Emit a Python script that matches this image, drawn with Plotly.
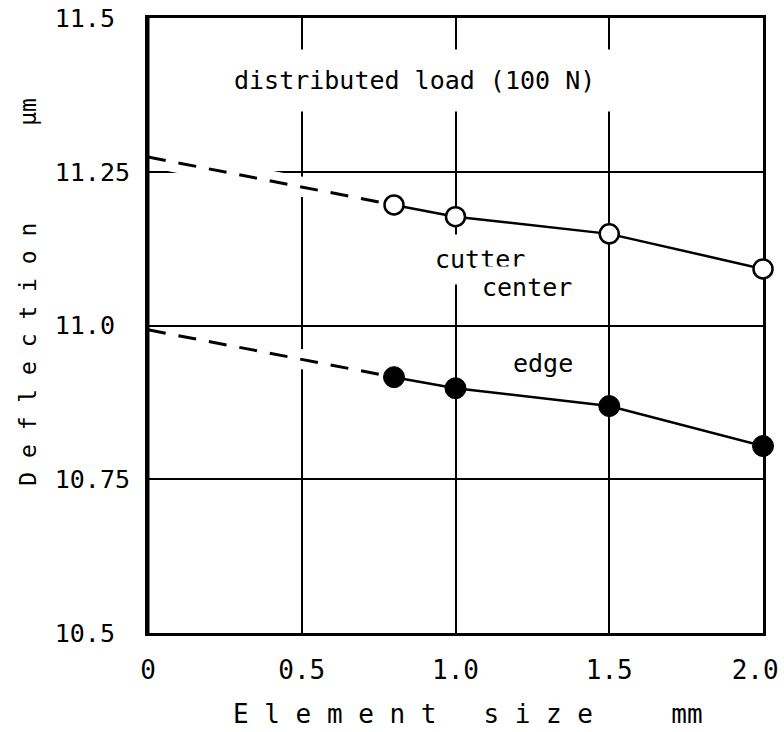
import plotly.graph_objects as go

# ---- data ----
element_size = [0.8, 1.0, 1.5, 2.0]
center_defl = [11.196, 11.177, 11.149, 11.092]
edge_defl = [10.916, 10.898, 10.869, 10.804]

extrap_x = [0.0, 0.8]
center_extrap = [11.274, 11.196]
edge_extrap = [10.993, 10.916]

x_tickvals = [0, 0.5, 1.0, 1.5, 2.0]
x_ticktext = ["0", "0.5", "1.0", "1.5", "2.0\u00a0"]
y_tickvals = [10.5, 10.75, 11.0, 11.25, 11.5]
y_ticktext = ["10.5\u00a0", "10.75", "11.0\u00a0", "11.25", "11.5\u00a0"]

FONT = "DejaVu Sans Mono"

fig = go.Figure()


def mask_path(ex, ey, sx, sy, start_frac):
    """white halo following a curve (decorative grid break)"""
    x0 = ex[0] + start_frac * (ex[1] - ex[0])
    y0 = ey[0] + start_frac * (ey[1] - ey[0])
    return [x0] + ex[1:] + sx[1:], [y0] + ey[1:] + sy[1:]


for ey, sy, frac in [(center_extrap, center_defl, 0.0), (edge_extrap, edge_defl, 0.25)]:
    mx, my = mask_path(extrap_x, ey, element_size, sy, frac)
    fig.add_trace(go.Scatter(
        x=mx, y=my, mode="lines",
        line=dict(color="white", width=20), hoverinfo="skip", showlegend=False))

# dashed extrapolations
for ey in [center_extrap, edge_extrap]:
    fig.add_trace(go.Scatter(
        x=extrap_x, y=ey, mode="lines",
        line=dict(color="black", width=3, dash="18px,13px"),
        showlegend=False))

# cutter center (open circles)
fig.add_trace(go.Scatter(
    x=element_size, y=center_defl, mode="lines+markers",
    line=dict(color="black", width=2.5),
    marker=dict(symbol="circle", size=19, color="white",
                line=dict(color="black", width=2.5)),
    cliponaxis=False, showlegend=False, name="cutter center"))

# edge (filled circles)
fig.add_trace(go.Scatter(
    x=element_size, y=edge_defl, mode="lines+markers",
    line=dict(color="black", width=2.5),
    marker=dict(symbol="circle", size=21, color="black",
                line=dict(color="black", width=1)),
    cliponaxis=False, showlegend=False, name="edge"))

annotations = [
    dict(x=0.868, y=11.399, text="distributed load (100 N)", pad=16),
    dict(x=1.08, y=11.107, text="cutter", pad=10),
    dict(x=1.233, y=11.061, text="center", pad=6),
    dict(x=1.284, y=10.939, text="edge", pad=6),
]
for a in annotations:
    fig.add_annotation(x=a["x"], y=a["y"], xref="x", yref="y", text=a["text"],
                       showarrow=False, bgcolor="white", borderpad=a["pad"],
                       font=dict(family=FONT, size=25, color="black"))

# axis titles
fig.add_annotation(x=0.52, y=-0.132, xref="paper", yref="paper",
                   text="E l e m e n t   s i z e     mm", showarrow=False,
                   font=dict(family=FONT, size=26, color="black"),
                   xanchor="center", yanchor="middle")
fig.add_annotation(x=-0.195, y=0.555, xref="paper", yref="paper",
                   text="D e f l e c t i o n       µm", showarrow=False,
                   textangle=-90,
                   font=dict(family=FONT, size=23, color="black"),
                   xanchor="center", yanchor="middle")

# left frame edge redrawn above the halos
fig.add_shape(type="line", xref="paper", yref="paper", x0=0, x1=0, y0=0, y1=1,
              line=dict(color="black", width=3), layer="above")

fig.update_xaxes(range=[0, 2.0], tickvals=x_tickvals, ticktext=x_ticktext,
                 showgrid=True, gridcolor="black", gridwidth=1.5,
                 showline=True, linecolor="black", linewidth=3, mirror=True,
                 ticks="", ticklabelstandoff=12, zeroline=False,
                 layer="below traces", automargin=False,
                 ticklabeloverflow="allow",
                 tickfont=dict(family=FONT, size=26, color="black"))
fig.update_yaxes(range=[10.5, 11.5], tickvals=y_tickvals, ticktext=y_ticktext,
                 showgrid=True, gridcolor="black", gridwidth=1.5,
                 showline=True, linecolor="black", linewidth=3, mirror=True,
                 ticks="", ticklabelstandoff=10, zeroline=False,
                 layer="below traces", automargin=False,
                 tickfont=dict(family=FONT, size=25, color="black"))

fig.update_layout(width=784, height=732,
                  margin=dict(l=148, r=21, t=18, b=99),
                  plot_bgcolor="white", paper_bgcolor="white",
                  showlegend=False)

fig.write_html("out.html",
               config={"displayModeBar": False},
               post_script="document.body.style.margin='0';"
                           "document.body.style.overflow='hidden';")
